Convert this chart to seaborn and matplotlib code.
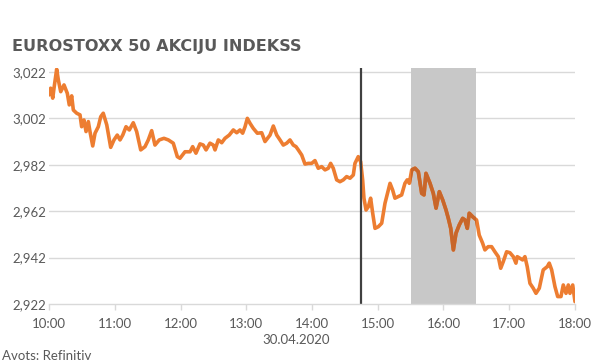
import matplotlib
matplotlib.use("Agg")
import matplotlib.pyplot as plt
import seaborn as sns
import pandas as pd
from matplotlib.patches import Rectangle

# minutes after 10:00 (30.04.2020)
minutes = [0, 1.5, 3.4, 4.6, 7.0, 8.5, 10.7, 13.7, 16.7, 18.5, 20.7, 22.2, 25.3, 28.3, 29.8,
           31.9, 33.8, 35.9, 37.4, 39.9, 42.0, 45.0, 47.2, 49.5, 52.7, 56.3, 59.3, 62.3, 64.8,
           67.3, 70.3, 73.3, 76.9, 80.0, 83.7, 87.6, 90.6, 93.7, 96.7, 100.6, 104.9, 108.9,
           113.4, 117.1, 119.5, 124.1, 128.7, 131.1, 134.1, 137.8, 140.8, 143.3, 146.9, 149.9,
           151.5, 154.5, 157.6, 160.6, 164.5, 168.2, 171.3, 174.3, 176.7, 178.9, 181.0, 183.4,
           186.4, 190.1, 194.1, 197.1, 201.7, 204.7, 207.8, 210.8, 213.8, 216.9, 219.9, 222.9,
           225.4, 227.5, 230.6, 233.6, 236.6, 239.7, 242.7, 245.7, 248.8, 251.9, 254.9, 257.0,
           259.4, 262.5, 265.5, 268.6, 271.6, 274.7, 277.7, 279.2, 282.2, 284.4, 286.2, 287.4,
           289.3, 291.4, 293.5, 295.4, 297.5, 300.5, 303.6, 306.6, 309.6, 311.2, 313.6, 315.7,
           318.7, 321.8, 324.8, 326.9, 328.8, 331.0, 334.0, 337.0, 340.1, 342.2, 344.0, 347.7,
           350.7, 353.2, 356.2, 359.3, 362.3, 364.4, 366.6, 369.0, 371.4, 374.4, 377.5, 379.6,
           381.7, 383.5, 386.6, 390.2, 392.6, 395.7, 397.8, 400.8, 403.9, 406.9, 410.0, 412.2,
           414.5, 417.6, 420.6, 423.7, 426.1, 427.3, 429.8, 432.2, 434.3, 436.4, 438.9, 441.9,
           444.4, 447.4, 451.0, 454.7, 456.5, 458.7, 461.7, 464.2, 467.2, 469.3, 471.8, 473.9,
           475.4, 477.9, 480.0]
index_values = [3012.1, 3015.0, 3010.7, 3015.1, 3023.2, 3018.6, 3013.5, 3016.4, 3012.8, 3007.8,
                3011.7, 3005.6, 3004.2, 3003.5, 2998.4, 3001.3, 2996.3, 3000.6, 2996.3, 2990.1,
                2995.6, 2998.4, 3002.7, 3004.2, 2999.2, 2989.5, 2992.7, 2994.8, 2992.7, 2994.8,
                2998.4, 2997.0, 3000.1, 2996.3, 2988.4, 2989.8, 2992.7, 2996.7, 2990.5, 2992.7,
                2993.4, 2992.7, 2991.3, 2985.5, 2984.8, 2987.6, 2987.6, 2989.8, 2987.0, 2991.0,
                2990.5, 2988.4, 2991.3, 2990.5, 2988.4, 2992.7, 2991.5, 2993.4, 2994.8, 2997.0,
                2995.8, 2997.0, 2995.6, 2998.4, 3002.0, 2999.9, 2997.7, 2995.6, 2995.8, 2992.0,
                2994.8, 2998.7, 2994.8, 2992.7, 2990.5, 2991.3, 2992.7, 2990.5, 2989.8, 2988.4,
                2986.2, 2982.3, 2982.6, 2982.6, 2983.8, 2980.5, 2981.2, 2979.8, 2980.5, 2982.6,
                2980.5, 2975.5, 2974.7, 2975.5, 2976.9, 2976.2, 2977.6, 2982.6, 2985.5, 2983.3,
                2975.5, 2967.6, 2962.5, 2963.9, 2967.6, 2961.1, 2954.6, 2955.3, 2956.8, 2965.4,
                2971.1, 2974.0, 2971.1, 2967.6, 2968.3, 2969.0, 2974.0, 2975.5, 2974.0, 2979.8,
                2980.5, 2979.0, 2969.7, 2969.0, 2978.3, 2974.0, 2969.7, 2963.3, 2970.4, 2966.8,
                2962.5, 2958.9, 2954.6, 2945.3, 2952.5, 2956.1, 2958.9, 2958.2, 2954.6, 2961.1,
                2959.6, 2958.2, 2951.7, 2948.2, 2945.3, 2946.7, 2946.7, 2944.5, 2942.4, 2937.4,
                2940.2, 2944.5, 2944.1, 2942.4, 2939.6, 2942.4, 2941.7, 2941.0, 2942.4, 2938.1,
                2930.9, 2928.8, 2926.6, 2928.8, 2936.7, 2938.1, 2939.6, 2936.7, 2929.5, 2925.2,
                2925.2, 2930.2, 2926.6, 2930.2, 2926.6, 2930.2, 2923.0]

y_ticks = [2922, 2942, 2962, 2982, 3002, 3022]
y_tick_labels = ["2,922", "2,942", "2,962", "2,982", "3,002", "3,022"]
x_ticks = [0, 60, 120, 180, 240, 300, 360, 420, 480]
x_tick_labels = ["10:00", "11:00", "12:00", "13:00", "14:00", "15:00", "16:00", "17:00", "18:00"]
event_minute = 285          # 14:45
span_start, span_end = 330, 390   # 15:30 - 16:30
title = "EUROSTOXX 50 AKCIJU INDEKSS"
date_label = "30.04.2020"
source = "Avots: Refinitiv"

df = pd.DataFrame({"t": minutes, "v": index_values})

sns.set_theme(style="white")
plt.rcParams["font.family"] = ["Lato", "DejaVu Sans"]

fig = plt.figure(figsize=(6.0, 3.63), dpi=100)
ax = fig.add_axes([49 / 600, 1 - 304 / 363, (575 - 49) / 600, (304 - 68) / 363])

grey_txt = "#595959"
ax.set_xlim(0, 480)
ax.set_ylim(2922, 3023.7)
for yt in y_ticks[1:]:
    ax.axhline(yt, color="#d9d9d9", lw=1.0, zorder=0)

ax.axvspan(span_start, span_end, color="#c8c8c8", lw=0, zorder=1)
sns.lineplot(data=df, x="t", y="v", ax=ax, color="#ED7D31", lw=2.6, zorder=2)
ax.lines[-1].set_solid_joinstyle("round")
# darker copy of line inside the shaded window
sns.lineplot(data=df, x="t", y="v", ax=ax, color="#C8662A", lw=2.6, zorder=3)
clip = Rectangle((span_start, 2900), span_end - span_start, 200, transform=ax.transData)
ax.lines[-1].set_clip_path(clip)
ax.axvline(event_minute, color="#404040", lw=1.6, zorder=4)

for s in ["left", "right", "top"]:
    ax.spines[s].set_visible(False)
ax.spines["bottom"].set_color("#d9d9d9")
ax.spines["bottom"].set_linewidth(1.0)
ax.spines["bottom"].set_zorder(5)

ax.set_yticks(y_ticks)
ax.set_yticklabels(y_tick_labels)
ax.set_xticks(x_ticks)
ax.set_xticklabels(x_tick_labels)
ax.tick_params(axis="y", length=0, pad=2, labelsize=9.5, labelcolor=grey_txt)
ax.tick_params(axis="x", length=4, width=1, color="#d9d9d9", pad=6, labelsize=9.5,
               labelcolor=grey_txt, bottom=True)
ax.set_xlabel("")
ax.set_ylabel("")
ax.grid(False)

fig.text(12 / 600, 1 - 47 / 363, title, fontsize=11.6, fontweight="bold", color=grey_txt,
         va="center", ha="left", family=["DejaVu Sans"])
fig.text(296 / 600, 1 - 340 / 363, date_label, fontsize=9.5, color=grey_txt, ha="center", va="center")
fig.text(2 / 600, 1 - 356 / 363, source, fontsize=9.5, color=grey_txt, ha="left", va="center")

fig.savefig("out.png", dpi=100)
